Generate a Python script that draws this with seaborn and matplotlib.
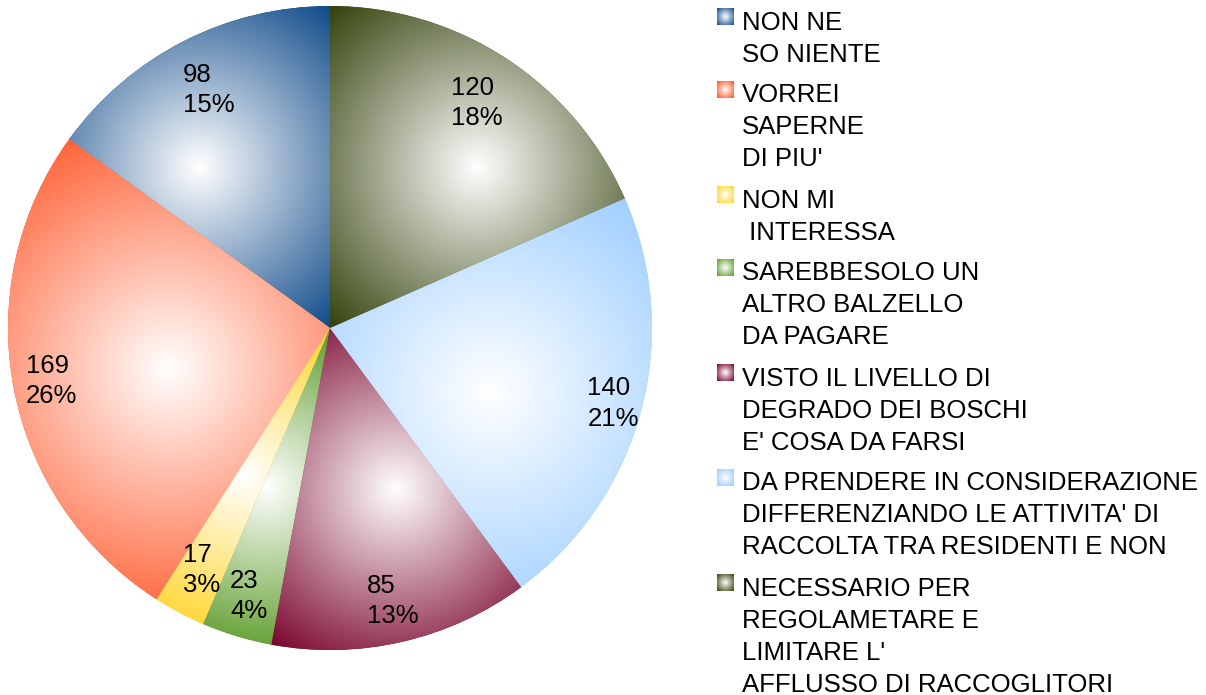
import numpy as np
import matplotlib
matplotlib.use("Agg")
import matplotlib.pyplot as plt
import seaborn as sns
from matplotlib.colors import to_rgb

# Data
categories = [
    "NON NE\nSO NIENTE",
    "VORREI\nSAPERNE\nDI PIU'",
    "NON MI\n INTERESSA",
    "SAREBBESOLO UN\nALTRO BALZELLO\nDA PAGARE",
    "VISTO IL LIVELLO DI\nDEGRADO DEI BOSCHI\nE' COSA DA FARSI",
    "DA PRENDERE IN CONSIDERAZIONE\nDIFFERENZIANDO LE ATTIVITA' DI\nRACCOLTA TRA RESIDENTI E NON",
    "NECESSARIO PER\nREGOLAMETARE E\nLIMITARE L'\nAFFLUSSO DI RACCOGLITORI",
]
counts = [98, 169, 17, 23, 85, 140, 120]

# Style
edge_colors = ["#104b8a", "#ff5222", "#ffd426", "#5c9c2a", "#78002a", "#99ccff", "#34420c"]
label_radius = [0.83, 0.88, 0.85, 0.87, 0.87, 0.91, 0.835]

sns.set_theme(style="white")
plt.rcParams["font.family"] = ["Liberation Sans", "DejaVu Sans"]
FS = 18.5

W, H = 1206, 695
fig = plt.figure(figsize=(W / 100, H / 100), dpi=100)


def radial(color, w, h, n=240):
    yy, xx = np.mgrid[-1:1:n * 1j, -1:1:n * 1j]
    t = np.sqrt((xx * w) ** 2 + (yy * h) ** 2) / np.sqrt(w ** 2 + h ** 2)
    t = np.clip(t, 0, 1)[..., None]
    c = np.array(to_rgb(color))
    return (1 - t) * 1.0 + t * c


# Pie
cx, cy, r = 330, 328, 322
ax = fig.add_axes([(cx - r) / W, (H - cy - r) / H, 2 * r / W, 2 * r / H])
wedges, _ = ax.pie(counts, colors=edge_colors, startangle=90, counterclock=True,
                   radius=1, wedgeprops=dict(linewidth=0))
total = sum(counts)
for wdg, col, v, lr in zip(wedges, edge_colors, counts, label_radius):
    ext = wdg.get_path().get_extents()
    img = radial(col, ext.width, ext.height)
    im = ax.imshow(img, extent=[ext.x0, ext.x1, ext.y0, ext.y1], origin="lower",
                   aspect="auto", zorder=2, interpolation="bilinear")
    im.set_clip_path(wdg)
    ang = np.deg2rad((wdg.theta1 + wdg.theta2) / 2)
    ax.text(lr * np.cos(ang), lr * np.sin(ang),
            f"{v}\n{round(v / total * 100)}%", ha="center", va="center",
            multialignment="left", fontsize=FS, color="black", zorder=3,
            linespacing=1.35)
ax.set_xlim(-1, 1)
ax.set_ylim(-1, 1)
ax.set_aspect("equal")
ax.axis("off")

# Legend
lax = fig.add_axes([0, 0, 1, 1])
lax.set_xlim(0, W)
lax.set_ylim(H, 0)
lax.axis("off")
y = 20
for lab, col in zip(categories, edge_colors):
    ym = y - 3
    lax.imshow(radial(col, 1, 1, 40), extent=[717, 734, ym + 8.5, ym - 8.5],
               origin="upper", aspect="auto", interpolation="bilinear")
    for line in lab.split("\n"):
        lax.text(742, y + 9.5, line, ha="left", va="baseline", fontsize=FS, color="black")
        y += 32
    y += 9
lax.set_xlim(0, W)
lax.set_ylim(H, 0)

fig.savefig("out.png", dpi=100)
